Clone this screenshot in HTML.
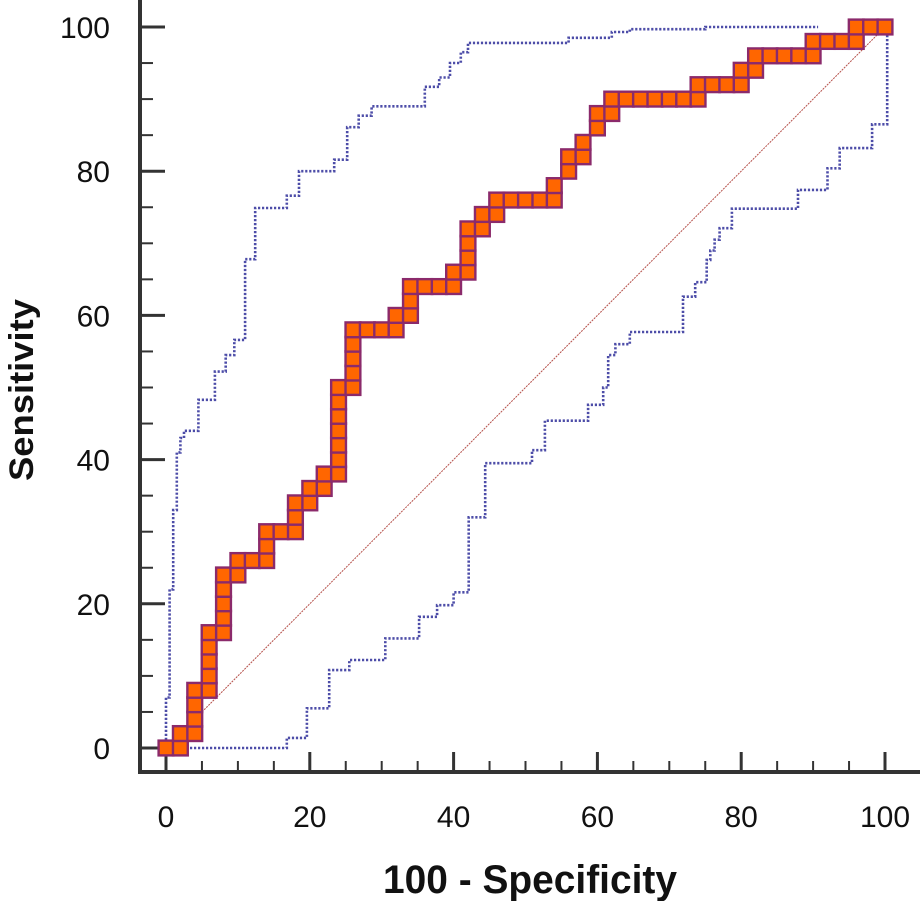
<!DOCTYPE html>
<html><head><meta charset="utf-8"><style>
html,body{margin:0;padding:0;background:#fff;}
svg{display:block;font-family:"Liberation Sans",Arial,sans-serif;}
</style></head><body>
<svg id="chart" width="920" height="901" viewBox="0 0 920 901" xmlns="http://www.w3.org/2000/svg">
<g id="axes"></g>
<g id="plot"></g>
<text x="530" y="893" text-anchor="middle" font-size="40" font-weight="bold" fill="#111" textLength="294" lengthAdjust="spacingAndGlyphs">100 - Specificity</text>
<text transform="translate(33,390) rotate(-90)" text-anchor="middle" font-size="34" font-weight="bold" fill="#111" textLength="182" lengthAdjust="spacingAndGlyphs">Sensitivity</text>
</svg>
<script>
const rocFpr = [0,2,2,4,4,4,4,6,6,6,6,6,8,8,8,8,8,10,10,12,14,14,14,16,18,18,18,20,20,22,22,24,24,24,24,24,24,24,26,26,26,26,26,28,30,32,32,34,34,34,36,38,40,40,42,42,42,42,44,44,46,46,48,50,52,54,54,56,56,58,58,60,60,62,62,64,66,68,70,72,74,74,76,78,80,80,82,82,84,86,88,90,90,92,94,96,96,98,100];
const rocTpr = [0,0,2,2,4,6,8,8,10,12,14,16,16,18,20,22,24,24,26,26,26,28,30,30,30,32,34,34,36,36,38,38,40,42,44,46,48,50,50,52,54,56,58,58,58,58,60,60,62,64,64,64,64,66,66,68,70,72,72,74,74,76,76,76,76,76,78,80,82,82,84,86,88,88,90,90,90,90,90,90,90,92,92,92,92,94,94,96,96,96,96,96,98,98,98,98,100,100,100];
const upperX = [0,0,0.5,0.5,1,1,1.5,1.5,2,2,2.5,2.5,4.5,4.5,6.8,6.8,8.3,8.3,9.5,9.5,11,11,12.4,12.4,16.8,16.8,18.5,18.5,23.4,23.4,25.2,25.2,26.8,26.8,28.6,28.6,36,36,38,38,39.5,39.5,41,41,42,42,56,56,62,62,64.5,64.5,75,75,90.7];
const upperY = [0,7,7,22,22,33,33,41,41,43,43,44,44,48.3,48.3,52.2,52.2,54.5,54.5,56.6,56.6,67.8,67.8,74.9,74.9,76.6,76.6,80,80,81.6,81.6,86.1,86.1,87.7,87.7,89,89,91.7,91.7,93,93,95,95,96.5,96.5,97.8,97.8,98.5,98.5,99.3,99.3,99.7,99.7,100,100];
const lowerX = [0,16.8,16.8,19.6,19.6,22.7,22.7,25.5,25.5,30.5,30.5,35.2,35.2,37.7,37.7,40,40,42.1,42.1,44.4,44.4,50.9,50.9,52.7,52.7,58.7,58.7,60.8,60.8,61.5,61.5,62.5,62.5,64.5,64.5,71.9,71.9,73.6,73.6,75.2,75.2,75.7,75.7,76.3,76.3,77,77,78.7,78.7,87.9,87.9,92,92,93.7,93.7,98.2,98.2,100.3,100.3,100];
const lowerY = [0,0,1.4,1.4,5.5,5.5,10.8,10.8,12.2,12.2,15.2,15.2,18.2,18.2,19.8,19.8,21.6,21.6,32,32,39.5,39.5,41.3,41.3,45.4,45.4,47.6,47.6,50,50,54.5,54.5,56,56,57.7,57.7,62.6,62.6,64.6,64.6,67.7,67.7,69,69,70.5,70.5,72.1,72.1,74.8,74.8,77.4,77.4,80.4,80.4,83.2,83.2,86.5,86.5,99.2,100];
const xTicks = [0,20,40,60,80,100];
const yTicks = [0,20,40,60,80,100];

const NS = "http://www.w3.org/2000/svg";
const sx = v => 166 + v * 7.19;
const sy = v => 748 - v * 7.21;
function mk(tag, attrs, parent){const e=document.createElementNS(NS,tag);for(const k in attrs)e.setAttribute(k,attrs[k]);parent.appendChild(e);return e;}
const axes = document.getElementById('axes');
const plot = document.getElementById('plot');

let l = mk('line',{x1:140,y1:0,x2:140,y2:774,stroke:'#333','stroke-width':4},axes);


l = mk('line',{x1:138,y1:772,x2:920,y2:772,stroke:'#333','stroke-width':4},axes);


for(let v=0; v<=100; v+=5){
  const major = v%20===0;
  const t1 = mk('line',{x1:142,y1:sy(v),x2:major?165:153,y2:sy(v),stroke:'#333','stroke-width':major?3:2},axes);
  
  
  const t2 = mk('line',{x1:sx(v),y1:770,x2:sx(v),y2:major?752:761,stroke:'#333','stroke-width':major?3:2},axes);
  
  
}
yTicks.forEach(v=>{
  const t = mk('text',{x:110,y:sy(v)+11,'text-anchor':'end','font-size':30,fill:'#111'},axes);
  t.textContent = v;
  
  
});
xTicks.forEach(v=>{
  const t = mk('text',{x:sx(v),y:827,'text-anchor':'middle','font-size':30,fill:'#111'},axes);
  t.textContent = v;
  
  
});

const diag = mk('line',{x1:sx(0),y1:sy(0),x2:sx(100),y2:sy(100),stroke:'#b5504a','stroke-width':1,'stroke-dasharray':'2 1'},plot);



function band(xs, ys, name){
  const d = xs.map((x,i)=>(i?'L':'M')+sx(x).toFixed(1)+','+sy(ys[i]).toFixed(1)).join(' ');
  const p = mk('path',{d:d,fill:'none',stroke:'#4d4da8','stroke-width':2.6,'stroke-dasharray':'2.2 1.8'},plot);
  
  
}
band(upperX, upperY, 'upper-confidence-band');
band(lowerX, lowerY, 'lower-confidence-band');

const rocPath = rocFpr.map((x,i)=>(i?'L':'M')+sx(x).toFixed(1)+','+sy(rocTpr[i]).toFixed(1)).join(' ');
const rl = mk('path',{d:rocPath,fill:'none',stroke:'#8b2a6b','stroke-width':2},plot);


rocFpr.forEach((x,i)=>{
  const r = mk('rect',{x:sx(x)-7.4,y:sy(rocTpr[i])-7.4,width:14.8,height:14.8,fill:'#ff6600',stroke:'#8b2a6b','stroke-width':2.4},plot);
  
  
});
</script>
</body></html>
